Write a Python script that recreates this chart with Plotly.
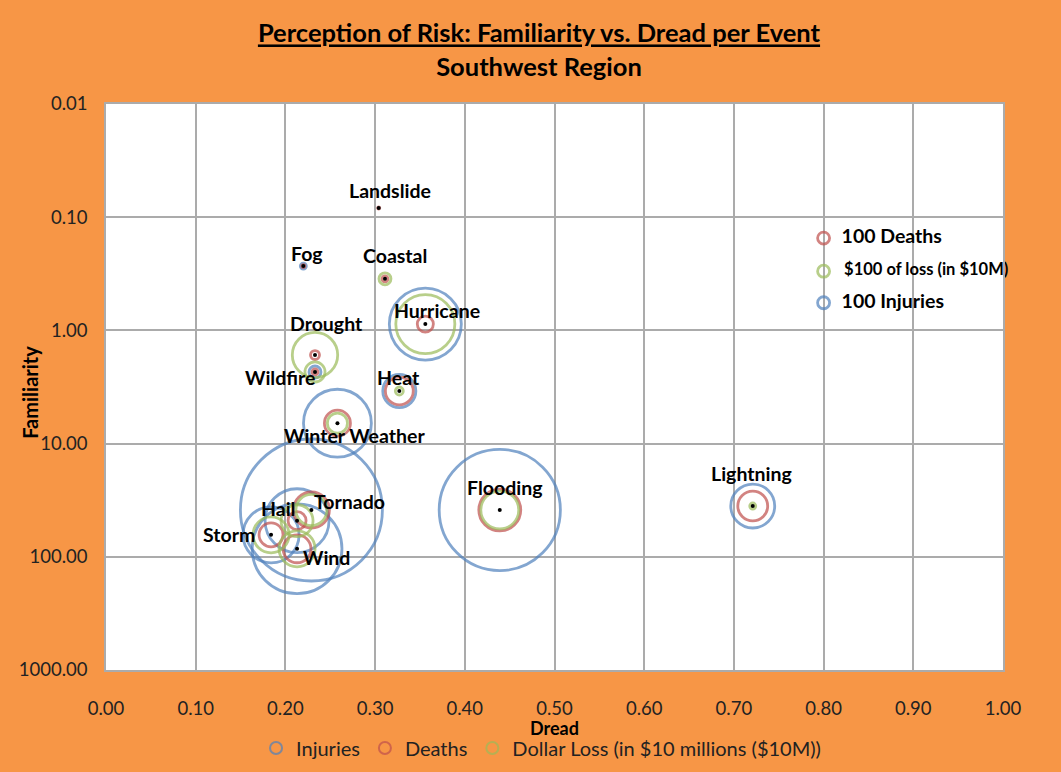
import plotly.graph_objects as go
import numpy as np

# -----------------------------
# DATA
# -----------------------------
events = ["Landslide", "Fog", "Coastal", "Hurricane", "Drought", "Wildfire", "Heat",
          "Winter Weather", "Flooding", "Lightning", "Tornado", "Hail", "Storm", "Wind"]
dread = [0.304, 0.220, 0.311, 0.356, 0.233, 0.233, 0.327,
         0.258, 0.439, 0.721, 0.229, 0.213, 0.184, 0.213]
familiarity = [0.083, 0.27, 0.35, 0.88, 1.65, 2.33, 3.43,
               6.6, 38.6, 35.6, 38.6, 48.0, 64.0, 85.0]
injuries = [0, 25, 0, 3600, 0, 100, 760, 3200, 10200, 1340, 14000, 2840, 2180, 5600]
deaths = [3, 6, 25, 180, 56, 25, 540, 470, 1220, 620, 900, 225, 400, 540]
dollar_loss = [0, 0, 100, 2420, 1430, 280, 44, 280, 1000, 25, 670, 710, 900, 900]

# reference key drawn inside the plot
key_labels = ["100 Deaths", " $100 of loss (in $10M)", "100 Injuries"]
key_values = [100, 100, 100]
key_dread = [0.80, 0.80, 0.80]
key_familiarity = [0.153, 0.30, 0.57]

x_ticks = [0.0, 0.1, 0.2, 0.3, 0.4, 0.5, 0.6, 0.7, 0.8, 0.9, 1.0]
y_ticks = [0.01, 0.1, 1, 10, 100, 1000]
y_tick_text = ["0.01", "0.10", "1.00", "10.00", "100.00", "1000.00"]

# label offsets in pixels (dx, dy) from each event centre
label_offsets = {
    "Landslide": (11, -18), "Fog": (4, -13), "Coastal": (10, -23),
    "Hurricane": (12, -14), "Drought": (11, -32), "Wildfire": (-35, 6),
    "Heat": (-1, -14), "Winter Weather": (17, 12), "Flooding": (5, -23),
    "Lightning": (-1, -33), "Tornado": (38, -9), "Hail": (-19, -12),
    "Storm": (-42, 0), "Wind": (29, 9),
}

# -----------------------------
# STYLE
# -----------------------------
BLUE = "#4F81BD"
RED = "#C0504D"
GREEN = "#9BBB59"
ORANGE = "#F79646"
FONT = "Lato, 'Open Sans', sans-serif"
SIZEREF = 2 * 100 / 12 ** 2   # 100 units -> 12 px diameter (area mode)
LW = 2.8
PAD = "\u00a0\u00a0"


def bubble(name, values, color, showlegend=True):
    return go.Scatter(
        x=dread, y=familiarity, mode="markers", name=name,
        showlegend=showlegend, hoverinfo="skip",
        marker=dict(size=values, sizemode="area", sizeref=SIZEREF, sizemin=0,
                    color="rgba(0,0,0,0)",
                    line=dict(color=color, width=LW)),
    )


fig = go.Figure()
fig.add_trace(bubble("Injuries", injuries, BLUE))
fig.add_trace(bubble("Deaths", deaths, RED))
fig.add_trace(bubble("Dollar Loss (in $10 millions ($10M))", dollar_loss, GREEN))

# centre dots
fig.add_trace(go.Scatter(
    x=dread, y=familiarity, mode="markers", showlegend=False,
    marker=dict(size=4, color="black"), text=events, hoverinfo="text"))

# key
fig.add_trace(go.Scatter(
    x=key_dread, y=key_familiarity, mode="markers+text", showlegend=False,
    text=[PAD + t for t in key_labels], textposition="middle right",
    textfont=dict(family=FONT, size=[19.5, 16.5, 19.5], color="black", weight="bold"),
    marker=dict(size=key_values, sizemode="area", sizeref=SIZEREF,
                color="rgba(0,0,0,0)",
                line=dict(color=[RED, GREEN, BLUE], width=LW)),
    cliponaxis=False, hoverinfo="skip"))

# event labels
for name, xv, yv in zip(events, dread, familiarity):
    dx, dy = label_offsets[name]
    fig.add_annotation(
        x=xv, y=np.log10(yv), xref="x", yref="y", text="<b>%s</b>" % name,
        showarrow=False, xshift=dx, yshift=-dy,
        font=dict(family=FONT, size=19.5, color="black"))

# axis titles
fig.add_annotation(
    x=-0.085, y=0.491, xref="paper", yref="paper", text="<b>Familiarity</b>",
    xanchor="center", yanchor="middle", textangle=-90, showarrow=False,
    font=dict(family=FONT, size=20, color="black"))
fig.add_annotation(
    x=0.5, y=-0.103, xref="paper", yref="paper", text="<b>Dread</b>",
    xanchor="center", yanchor="middle", showarrow=False,
    font=dict(family=FONT, size=18, color="black"))

fig.update_layout(
    width=1061, height=772,
    paper_bgcolor=ORANGE, plot_bgcolor="white",
    margin=dict(l=106, r=58, t=104, b=102),
    font=dict(family=FONT, color="#222222"),
    title=dict(
        text="<b><u>Perception of Risk: Familiarity vs. Dread per Event</u></b>"
             "<br><b>Southwest Region</b>",
        x=0.508, xanchor="center", y=0.945, yanchor="top",
        font=dict(family=FONT, size=25.5, color="black")),
    xaxis=dict(
        range=[0, 1], tickvals=x_ticks, tickformat=".2f",
        showgrid=True, gridcolor="#ABABAB", gridwidth=1.5,
        showline=True, linecolor="#ABABAB", linewidth=1.5, mirror=True,
        zeroline=False, ticks="", ticklabelstandoff=21, automargin=False,
        tickfont=dict(size=18.5, color="#222222")),
    yaxis=dict(
        type="log", range=[3, -2], tickvals=y_ticks, ticktext=y_tick_text,
        showgrid=True, gridcolor="#ABABAB", gridwidth=1.5,
        showline=True, linecolor="#ABABAB", linewidth=1.5, mirror=True,
        zeroline=False, ticks="", ticklabelstandoff=13, automargin=False,
        tickfont=dict(size=18.5, color="#222222")),
    legend=dict(
        orientation="h", x=0.485, xanchor="center",
        y=0.031, yref="container", yanchor="middle",
        itemsizing="constant", bgcolor="rgba(0,0,0,0)",
        font=dict(family=FONT, size=20, color="#222222")),
)

fig.write_html("out.html", config={"displayModeBar": False},
               post_script="document.body.style.margin='0';")
